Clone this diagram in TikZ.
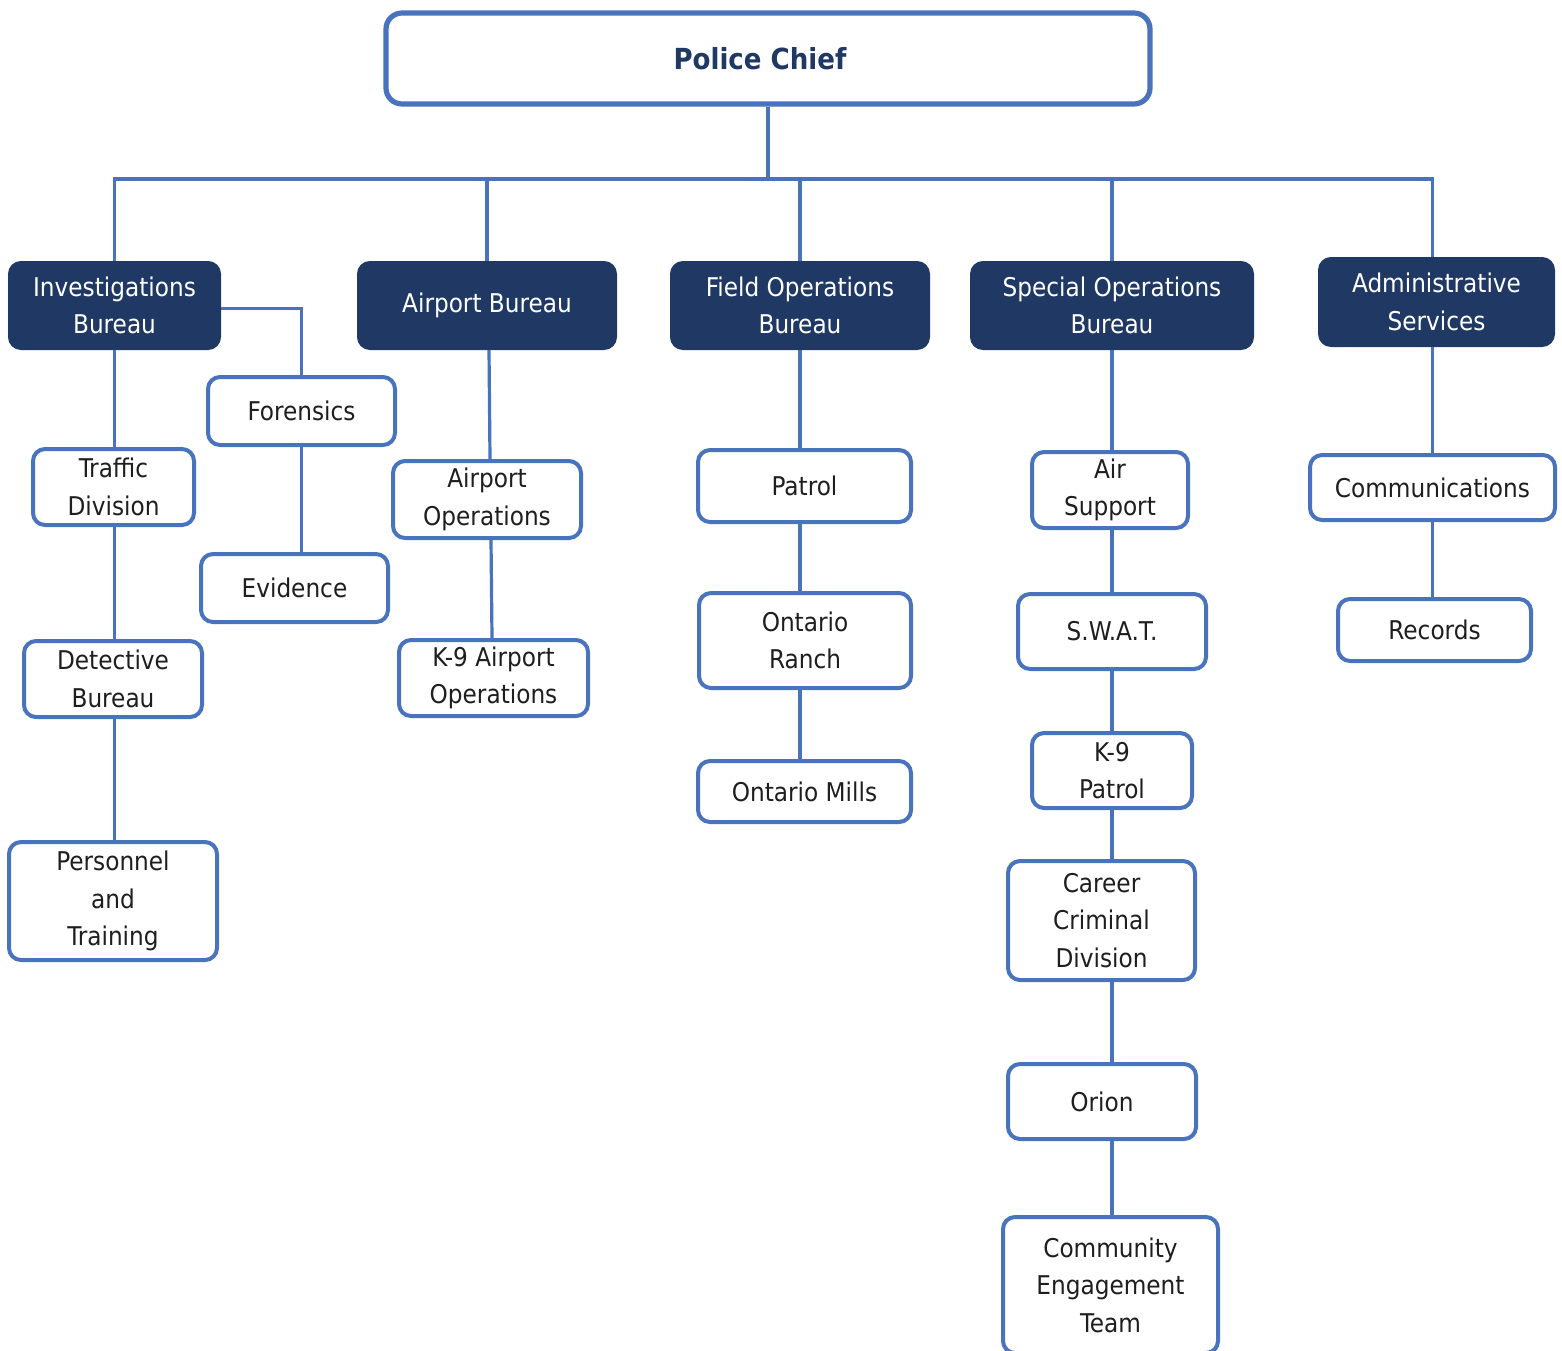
\documentclass[tikz,border=0pt]{standalone}
\usepackage{fontspec}
\setmainfont{DejaVu Sans Condensed}
\definecolor{edge}{HTML}{4A73BD}
\definecolor{navy}{HTML}{1F3864}
\definecolor{ink}{HTML}{1E1E1E}
\begin{document}
\begin{tikzpicture}[x=0.5pt,y=-0.5pt,
  sz/.style 2 args={minimum width=#1*0.5pt-2pt, minimum height=#2*0.5pt-2pt},
  base/.style={rounded corners=6pt, inner sep=1pt, align=center,
    font=\fontsize{12.9pt}{18.7pt}\selectfont},
  headbox/.style={base, draw=navy, fill=navy, line width=1pt, text=white},
  unitbox/.style={base, draw=edge, line width=2pt, fill=white, text=ink},
  chiefbox/.style={rounded corners=8pt, draw=edge, line width=2.6pt, fill=white,
    text=navy, font=\fontsize{14.5pt}{18pt}\selectfont\bfseries},
  link/.style={draw=edge, line width=1.6pt}]
\useasboundingbox (0,0) rectangle (1562,1350);

% top
\node[chiefbox, sz={768}{95}] (chief) at (768,58.5) {Police Chief\hspace*{8pt}};

% bureaus
\node[headbox, sz={215}{91}] (inv) at (114.5,305.5) {Investigations\\Bureau};
\node[headbox, sz={262}{91}] (apt) at (487,305.5) {Airport Bureau};
\node[headbox, sz={262}{91}] (fld) at (800,305.5) {Field Operations\\Bureau};
\node[headbox, sz={286}{91}] (spc) at (1112,305.5) {Special Operations\\Bureau};
\node[headbox, sz={239}{92}] (adm) at (1436.5,302) {Administrative\\Services};

% investigations units
\node[unitbox, sz={191}{72}] (for) at (301.5,411) {Forensics};
\node[unitbox, sz={191}{72}] (evi) at (294.5,588) {Evidence};
\node[unitbox, sz={165}{80}] (trf) at (113.5,487) {Traffic\\Division};
\node[unitbox, sz={182}{80}] (det) at (113,679) {Detective\\Bureau};
\node[unitbox, sz={212}{122}] (per) at (113,901) {Personnel\\and\\Training};

% airport units
\node[unitbox, sz={192}{81}] (aop) at (487,499.5) {Airport\\Operations};
\node[unitbox, sz={193}{80}] (k9a) at (493.5,678) {K-9 Airport\\Operations};

% field units
\node[unitbox, sz={217}{76}] (pat) at (804.5,486) {Patrol};
\node[unitbox, sz={216}{99}] (orr) at (805,640.5) {Ontario\\Ranch};
\node[unitbox, sz={217}{65}] (orm) at (804.5,791.5) {Ontario Mills};

% special operations units
\node[unitbox, sz={160}{80}] (air) at (1110,490) {Air\\Support};
\node[unitbox, sz={192}{79}] (swt) at (1112,631.5) {S.W.A.T.};
\node[unitbox, sz={164}{79}] (k9p) at (1112,770.5) {K-9\\Patrol};
\node[unitbox, sz={191}{123}] (ccd) at (1101.5,920.5) {Career\\Criminal\\Division};
\node[unitbox, sz={192}{79}] (ori) at (1102,1101.5) {Orion};
\node[unitbox, sz={219}{140}] (cet) at (1110.5,1285) {Community\\Engagement\\Team};

% administrative units
\node[unitbox, sz={249}{69}] (com) at (1432.5,487.5) {Communications};
\node[unitbox, sz={197}{66}] (rec) at (1434.5,630) {Records};

% bus under the chief
\coordinate (bus) at (0,179);
\draw[link] (chief.south) -- (chief.south |- bus);
\draw[link, line join=miter] (inv.north) -- (inv.north |- bus) -- (com.north |- bus) -- (adm.north -| com.north);
\foreach \b in {apt,fld,spc}
  \draw[link] (\b.north) -- (\b.north |- bus);

% investigations
\draw[link] (inv.south) -- (inv.south |- trf.north);
\draw[link] (trf.south -| inv.south) -- (det.north -| inv.south);
\draw[link] (det.south -| inv.south) -- (per.north -| inv.south);
\draw[link] ([yshift=-1.5pt]inv.east) -| (for.north);
\draw[link] (for.south) -- (for.south |- evi.north);

% airport
\draw[link] ([xshift=1pt]apt.south) -- ([xshift=1.5pt]aop.north);
\draw[link] ([xshift=2pt]aop.south) -- ([xshift=-0.75pt]k9a.north);

% field
\draw[link] (fld.south) -- (fld.south |- pat.north);
\draw[link] (pat.south -| fld.south) -- (orr.north -| fld.south);
\draw[link] (orr.south -| fld.south) -- (orm.north -| fld.south);

% special operations
\draw[link] (spc.south) -- (spc.south |- air.north);
\draw[link] (air.south -| spc.south) -- (swt.north -| spc.south);
\draw[link] (swt.south -| spc.south) -- (k9p.north -| spc.south);
\draw[link] (k9p.south -| spc.south) -- (ccd.north -| spc.south);
\draw[link] (ccd.south -| spc.south) -- (ori.north -| spc.south);
\draw[link] (ori.south -| spc.south) -- (cet.north -| spc.south);

% administrative
\draw[link] (adm.south -| com.north) -- (com.north);
\draw[link] (com.south) -- (com.south |- rec.north);
\end{tikzpicture}
\end{document}
